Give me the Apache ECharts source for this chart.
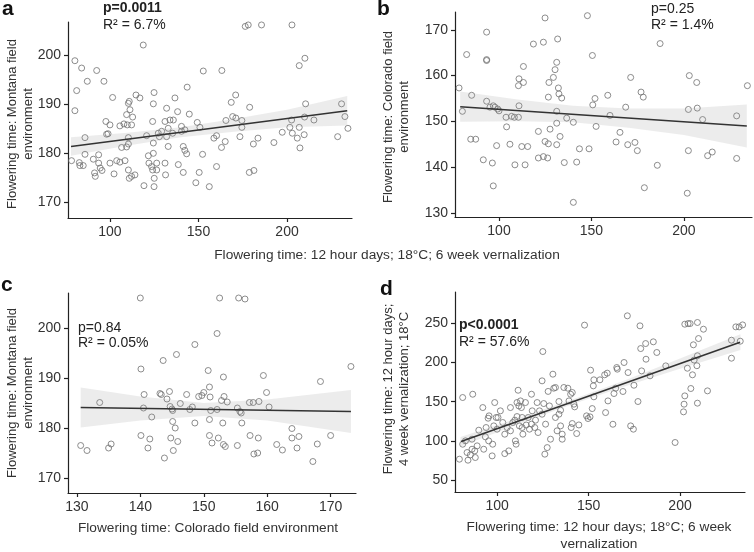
<!DOCTYPE html>
<html>
<head>
<meta charset="utf-8">
<title>Flowering time correlations</title>
<script src="https://cdn.jsdelivr.net/npm/echarts@6/dist/echarts.min.js"></script>
<style>
  html, body { margin: 0; padding: 0; background: #fff; }
  #chart { width: 754px; height: 552px; }
</style>
</head>
<body>
<div id="chart"></div>
<script>
const FONT = '"Liberation Sans", Arial, sans-serif';

// panel a: 12h/6wk vernalization (x) vs Montana field (y)
const pointsA = [
  [80.2,198.8],[84.0,197.3],[81.2,192.7],[87.2,194.6],[92.5,196.8],[96.6,194.6],[80.2,188.6],[85.9,183.1],
  [78.3,178.4],[82.7,178.0],[83.0,177.4],[84.9,177.4],[85.9,179.7],[90.6,178.7],[91.3,175.9],[91.7,175.2],
  [93.6,177.9],[94.5,176.9],[95.5,176.4],[93.6,179.6],[100.0,177.9],[98.1,183.8],[97.7,186.4],[98.9,183.9],
  [100.0,185.7],[101.5,191.3],[102.3,175.7],[103.8,178.4],[105.6,178.1],[108.5,178.4],[106.6,181.1],[105.6,185.5],
  [107.9,185.9],[109.8,185.7],[109.4,187.8],[110.4,190.1],[110.9,190.5],[111.3,188.8],[112.2,185.7],[112.8,187.3],
  [110.4,183.1],[110.4,181.8],[109.4,181.2],[110.4,176.5],[110.9,174.8],[112.2,175.2],[114.1,175.5],[114.7,191.8],
  [116.9,191.2],[119.2,173.3],[118.8,202.0],[120.7,183.5],[121.7,179.4],[122.0,177.9],[123.5,177.2],[124.1,176.5],
  [124.9,192.3],[124.5,190.0],[124.1,186.4],[124.5,182.0],[124.5,179.9],[125.0,174.8],[124.9,173.1],[126.4,177.9],
  [126.4,176.5],[127.3,184.0],[127.9,183.3],[129.2,184.4],[131.1,186.4],[132.0,189.1],[132.0,183.3],[131.1,177.9],
  [131.4,175.5],[132.9,185.0],[132.9,181.3],[133.9,186.7],[135.8,186.7],[135.4,184.0],[136.7,191.2],[138.2,188.4],
  [138.6,177.6],[140.4,185.4],[140.4,184.4],[142.3,184.7],[141.4,181.3],[142.3,180.5],[143.3,179.8],[141.4,176.0],
  [143.6,193.4],[144.8,187.9],[148.5,173.9],[150.4,176.0],[149.3,186.2],[150.8,185.2],[152.3,179.7],[152.7,196.7],
  [156.1,173.1],[158.7,183.0],[160.2,183.5],[160.2,177.2],[163.0,181.1],[165.1,182.3],[163.2,196.8],[165.5,186.6],
  [168.5,190.3],[169.3,187.4],[171.0,191.8],[171.1,187.1],[173.4,183.3],[174.5,186.6],[174.5,185.2],[176.4,205.8],
  [178.1,206.1],[178.7,176.0],[181.3,176.4],[178.9,189.3],[181.0,181.8],[183.6,183.0],[185.6,206.1],[192.6,182.1],
  [197.3,184.2],[201.6,185.2],[202.6,186.7],[202.8,206.1],[203.0,184.0],[205.8,183.0],[206.9,185.2],[206.9,197.8],
  [207.3,181.0],[209.7,183.7],[209.9,187.3],[210.1,199.3],[210.5,190.0],[215.2,186.7],[228.6,183.3],[230.8,190.0],
  [232.7,187.4],[234.4,185.0]
];
const fitA = [[78, 181.3], [234, 188.6]];
const bandXA = [78, 110, 140, 170, 200, 234];
const bandLoA = [179.4, 181.5, 183.2, 184.3, 185.2, 185.6];
const bandHiA = [183.2, 184.1, 185.2, 186.9, 188.8, 191.6];

// panel b: 12h/6wk vernalization (x) vs Colorado field (y)
const pointsB = [
  [78.4,157.3],[80.2,152.2],[82.5,164.6],[85.2,155.7],[84.7,146.1],[87.4,146.1],[91.5,141.6],[93.3,169.5],
  [93.3,163.5],[93.3,163.3],[93.3,154.4],[95.1,153.1],[96.9,153.4],[97.8,153.1],[99.3,152.7],[100.0,152.3],
  [96.4,140.9],[96.9,135.9],[98.7,144.7],[103.8,150.9],[104.1,148.8],[105.9,145.0],[106.8,151.1],[108.3,150.9],
  [108.6,140.5],[110.5,150.9],[110.8,153.4],[110.5,157.8],[110.8,159.3],[113.2,162.0],[113.2,158.5],[112.3,144.5],
  [114.1,140.5],[115.5,144.5],[118.6,166.9],[121.3,147.8],[121.3,142.0],[124.0,167.3],[124.0,142.3],[124.9,172.6],
  [126.7,155.3],[127.0,158.5],[127.6,148.3],[124.9,145.6],[126.3,142.0],[126.7,145.1],[129.4,159.6],[130.3,161.3],
  [131.2,162.9],[131.7,168.0],[131.2,152.2],[131.2,149.6],[131.2,144.9],[132.1,157.3],[132.4,156.0],[133.0,146.7],
  [133.9,155.1],[135.3,141.0],[136.6,150.7],[140.2,149.8],[140.2,132.3],[142.0,141.1],[143.5,144.0],[147.8,173.1],
  [148.7,144.0],[150.5,164.4],[150.7,153.6],[151.9,155.0],[152.5,148.9],[158.8,155.7],[160.0,151.3],[163.3,145.5],
  [165.4,147.6],[168.5,153.1],[169.6,144.9],[171.2,159.6],[173.5,145.4],[174.8,143.6],[176.8,156.4],[178.0,155.3],
  [178.6,135.5],[185.6,140.4],[187.1,167.0],[202.4,152.6],[202.4,143.6],[201.8,134.3],[202.9,160.0],[206.9,158.5],
  [207.2,152.9],[210.1,150.4],[212.8,142.5],[215.3,143.3],[228.5,151.2],[228.5,141.9],[234.3,157.8]
];
const fitB = [[79, 153.2], [234, 149.0]];
const bandXB = [79, 110, 140, 170, 200, 234];
const bandLoB = [149.9, 150.0, 149.8, 148.6, 147.0, 144.3];
const bandHiB = [156.5, 154.8, 153.4, 152.8, 152.8, 153.7];

// panel c: Colorado field (x) vs Montana field (y)
const pointsC = [
  [130.6,176.5],[131.6,175.5],[133.6,185.1],[135.0,176.0],[135.4,176.8],[140.0,206.0],[140.1,191.8],[140.1,178.5],
  [140.5,184.0],[140.6,186.7],[141.2,176.0],[141.5,177.8],[141.8,182.2],[143.6,193.5],[143.1,186.9],[143.3,186.7],
  [143.8,174.0],[144.2,185.8],[144.6,187.3],[144.7,184.3],[144.8,178.0],[145.0,183.8],[145.1,183.5],[145.1,181.3],
  [145.2,175.5],[145.5,180.0],[145.7,194.7],[145.9,177.3],[146.3,184.9],[147.3,186.7],[147.8,183.7],[148.6,181.0],
  [148.6,196.7],[149.2,186.3],[148.2,184.2],[149.7,186.5],[150.0,187.1],[150.7,191.5],[150.9,188.2],[151.0,186.2],
  [150.9,181.7],[150.9,178.5],[151.3,177.0],[151.1,183.5],[152.1,183.7],[152.1,198.9],[152.3,178.0],[152.5,206.0],
  [153.0,181.0],[153.1,176.7],[153.1,190.2],[153.2,186.3],[152.8,185.5],[153.4,176.3],[153.7,185.2],[155.3,176.5],
  [155.3,184.0],[155.5,206.0],[155.7,183.3],[155.9,183.0],[156.0,181.0],[156.5,205.8],[157.3,178.5],[157.2,185.1],
  [157.8,185.1],[157.9,174.8],[158.5,175.0],[158.6,178.0],[158.7,185.3],[159.4,190.5],[159.9,187.1],[160.3,184.2],
  [161.5,176.7],[162.4,175.6],[163.9,179.9],[163.9,178.0],[164.7,176.0],[165.0,178.3],[167.2,173.3],[167.9,176.8],
  [168.4,189.3],[170.0,178.5],[173.2,192.3]
];
const fitC = [[130.6, 184.1], [173.2, 183.3]];
const bandXC = [130.6, 140, 150, 160, 173.2];
const bandLoC = [180.1, 181.5, 182.4, 181.5, 179.0];
const bandHiC = [188.1, 186.3, 185.0, 185.7, 187.6];

// panel d: 12h/6wk vernalization (x) vs 12h/4wk vernalization (y)
const pointsD = [
  [79.4,76.6],[81.2,155.3],[81.2,95.7],[82.7,100.0],[83.6,85.1],[84.1,75.3],[85.4,82.1],[86.3,102.1],
  [86.7,159.5],[86.3,89.3],[87.8,87.2],[88.1,78.7],[89.1,93.6],[90.0,113.6],[92.2,142.5],[92.7,89.3],
  [93.6,105.1],[94.0,117.0],[95.1,128.9],[95.4,100.0],[95.6,131.9],[97.3,80.8],[98.2,119.1],[97.6,95.7],
  [98.7,148.9],[99.5,129.8],[100.5,129.8],[100.0,114.9],[101.8,138.3],[103.1,123.4],[104.2,108.5],[104.2,83.7],
  [105.5,117.0],[106.4,87.2],[107.3,142.5],[107.3,112.8],[108.6,123.4],[109.7,126.4],[110.0,100.0],[110.4,95.7],
  [110.9,148.9],[110.9,131.0],[111.5,164.6],[111.9,144.6],[112.2,119.1],[112.8,151.0],[113.3,142.5],[113.7,129.8],
  [113.7,117.0],[114.1,108.5],[115.5,148.9],[115.9,120.2],[117.0,129.8],[117.7,114.9],[118.8,159.5],[118.8,121.3],
  [119.2,138.3],[120.6,117.0],[121.0,126.4],[121.9,148.9],[122.4,110.6],[123.2,138.3],[124.6,134.0],[124.6,176.6],
  [125.0,214.0],[125.5,147.6],[126.1,83.0],[126.5,121.3],[127.4,91.4],[127.9,163.1],[128.6,144.6],[129.2,102.1],
  [130.5,185.1],[131.0,167.2],[131.9,168.1],[131.9,129.8],[132.8,112.8],[133.8,150.2],[133.8,134.0],[134.7,119.1],
  [135.6,102.1],[136.5,168.1],[135.6,108.5],[134.7,139.1],[138.7,167.2],[139.3,151.0],[140.2,159.5],[141.1,161.7],
  [140.5,117.0],[141.1,122.1],[142.0,146.8],[142.4,143.4],[143.5,109.3],[144.7,120.3],[147.8,247.7],[148.9,131.9],
  [149.7,128.5],[150.8,130.6],[151.1,190.2],[152.0,141.2],[152.6,170.2],[152.9,177.9],[152.9,156.2],[156.2,177.9],
  [158.8,184.3],[160.2,186.4],[159.3,136.1],[160.6,151.0],[163.3,121.2],[163.9,160.4],[164.8,167.2],[165.4,193.6],
  [165.7,191.5],[168.8,163.0],[169.4,200.0],[171.2,259.6],[171.6,187.2],[173.0,119.1],[174.5,114.9],[174.8,171.0],
  [177.0,150.2],[178.1,246.8],[178.5,217.8],[179.0,189.3],[181.2,224.2],[181.4,204.2],[183.6,183.0],[185.4,226.4],
  [187.3,212.8],[192.2,195.7],[197.3,97.9],[201.9,137.0],[202.2,146.8],[202.6,248.9],[202.6,157.4],[204.0,192.7],
  [204.4,249.7],[205.5,249.7],[205.9,166.8],[206.8,184.3],[207.3,222.6],[207.7,203.1],[209.2,195.9],[209.5,251.1],
  [209.5,208.6],[209.5,148.1],[210.1,230.6],[212.8,242.5],[215.0,163.8],[228.1,205.5],[228.1,228.5],[230.5,245.5],
  [232.3,245.5],[234.2,248.0],[232.9,227.2]
];
const fitD = [[80.3, 99.1], [232.8, 225.8]];
const bandXD = [80, 110, 140, 170, 200, 233];
const bandLoD = [92.9, 119.8, 145.7, 169.8, 192.1, 216.0];
const bandHiD = [104.9, 127.8, 151.7, 177.4, 205.1, 236.0];

// tick values
const ticksVern = [100, 150, 200];
const ticksMontana = [170, 180, 190, 200];
const ticksColoradoY = [130, 140, 150, 160, 170];
const ticksColoradoX = [130, 140, 150, 160, 170];
const ticks4wk = [50, 100, 150, 200, 250];

const axisColor = '#222';

function makeAxis(i, min, max, ticks) {
  return {
    type: 'value', gridIndex: i, min: min, max: max,
    axisLine: { show: true, onZero: false, lineStyle: { color: axisColor, width: 1.2 } },
    axisTick: { show: true, length: 4, customValues: ticks, lineStyle: { color: axisColor, width: 1.2 } },
    axisLabel: { customValues: ticks, fontSize: 14, color: '#333', margin: 7, fontFamily: FONT },
    splitLine: { show: false }
  };
}

function scatterSeries(i, pts) {
  return {
    type: 'scatter', xAxisIndex: i, yAxisIndex: i, data: pts,
    symbol: 'circle', symbolSize: 6, z: 2,
    itemStyle: { color: 'rgba(0,0,0,0)', borderColor: '#707070', borderWidth: 1 }
  };
}

// confidence band drawn as one polygon through the axis scales
function bandSeries(i, bx, lo, hi) {
  return {
    type: 'custom', xAxisIndex: i, yAxisIndex: i, silent: true, z: 3,
    data: [[bx[0], lo[0]]],
    renderItem: function (params, api) {
      const upper = bx.map((x, k) => api.coord([x, hi[k]]));
      const lower = bx.map((x, k) => api.coord([x, lo[k]])).reverse();
      return {
        type: 'polygon',
        shape: { points: upper.concat(lower) },
        style: { fill: 'rgba(150,150,150,0.18)' }
      };
    }
  };
}

function fitSeries(i, fit) {
  return {
    type: 'line', xAxisIndex: i, yAxisIndex: i, data: fit, z: 4,
    symbol: 'none', lineStyle: { color: '#333', width: 1.6 }
  };
}

function txt(x, y, text, opts) {
  return Object.assign({
    type: 'text', x: x, y: y,
    style: Object.assign({
      text: text, fontSize: 14, fontFamily: FONT, fill: '#222',
      align: 'left', verticalAlign: 'middle'
    }, (opts && opts.style) || {})
  }, (opts && opts.el) || {});
}

const yTitle = { style: { align: 'center', fontSize: 13, lineHeight: 16, fill: '#333' }, el: { rotation: Math.PI / 2 } };
const xTitle = { style: { align: 'center', fontSize: 13.7, lineHeight: 17, fill: '#333' } };
const letter = { style: { fontSize: 21, fontWeight: 'bold', fill: '#111' } };

const chart = echarts.init(document.getElementById('chart'));

const option = {
  backgroundColor: '#fff',
  animation: false,
  grid: [
    { left: 68, top: 22, width: 284, height: 196, outerBoundsMode: 'none' },
    { left: 455, top: 12, width: 297, height: 205, outerBoundsMode: 'none' },
    { left: 68, top: 293, width: 288, height: 200, outerBoundsMode: 'none' },
    { left: 455, top: 292, width: 290, height: 200, outerBoundsMode: 'none' }
  ],
  xAxis: [
    makeAxis(0, 76.3, 236.7, ticksVern),
    makeAxis(1, 76.2, 236.8, ticksVern),
    makeAxis(2, 128.6, 174.0, ticksColoradoX),
    makeAxis(3, 77, 235.5, ticksVern)
  ],
  yAxis: [
    makeAxis(0, 166.7, 206.7, ticksMontana),
    makeAxis(1, 129.1, 173.9, ticksColoradoY),
    makeAxis(2, 167, 207, ticksMontana),
    makeAxis(3, 34.7, 290, ticks4wk)
  ],
  series: [
    scatterSeries(0, pointsA), bandSeries(0, bandXA, bandLoA, bandHiA), fitSeries(0, fitA),
    scatterSeries(1, pointsB), bandSeries(1, bandXB, bandLoB, bandHiB), fitSeries(1, fitB),
    scatterSeries(2, pointsC), bandSeries(2, bandXC, bandLoC, bandHiC), fitSeries(2, fitC),
    scatterSeries(3, pointsD), bandSeries(3, bandXD, bandLoD, bandHiD), fitSeries(3, fitD)
  ],
  graphic: [
    // panel letters
    txt(2, 9, 'a', letter),
    txt(377, 9, 'b', letter),
    txt(1, 285, 'c', letter),
    txt(380, 289, 'd', letter),

    // stats
    txt(103, 8, 'p=0.0011', { style: { fontWeight: 'bold' } }),
    txt(103, 25, 'R² = 6.7%'),
    txt(651, 9, 'p=0.25'),
    txt(651, 25, 'R² = 1.4%'),
    txt(78, 328, 'p=0.84'),
    txt(78, 343, 'R² = 0.05%'),
    txt(459, 325, 'p<0.0001', { style: { fontWeight: 'bold' } }),
    txt(459, 342, 'R² = 57.6%'),

    // y axis titles
    txt(20, 124, 'Flowering time: Montana field\nenvironment', yTitle),
    txt(396, 117, 'Flowering time: Colorado field\nenvironment', yTitle),
    txt(20, 393, 'Flowering time: Montana field\nenvironment', yTitle),
    txt(396, 389, 'Flowering time: 12 hour days;\n4 week vernalization; 18°C', yTitle),

    // x axis titles
    txt(387, 255, 'Flowering time: 12 hour days; 18°C; 6 week vernalization', xTitle),
    txt(208, 528, 'Flowering time: Colorado field environment', xTitle),
    txt(599, 536, 'Flowering time: 12 hour days; 18°C; 6 week\nvernalization', xTitle)
  ]
};

chart.setOption(option);
</script>
</body>
</html>
